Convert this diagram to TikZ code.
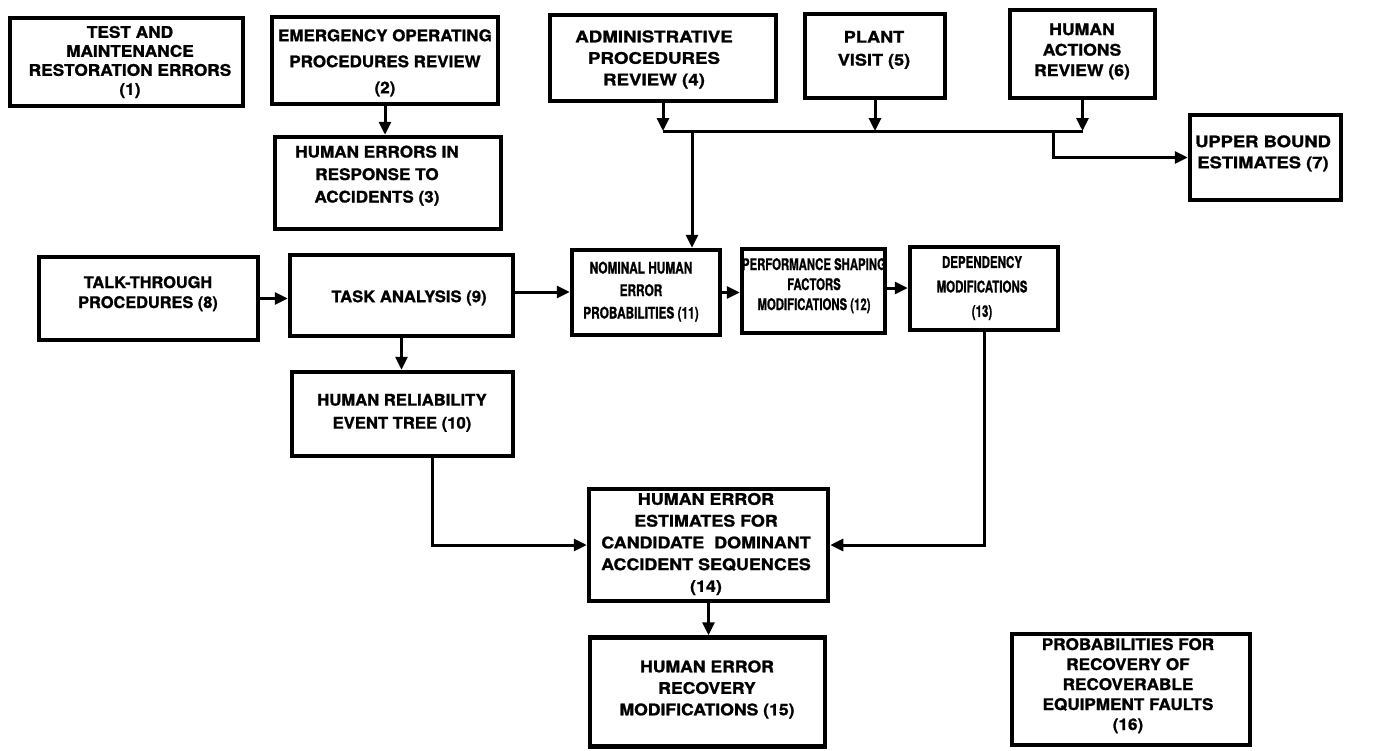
\documentclass[tikz,border=0pt]{standalone}
\usepackage{fontspec}
\usepackage{graphicx}
\newfontfamily\hv{TeX Gyre Heros}[FakeBold=1.2]
\usetikzlibrary{arrows.meta}
% #1 horizontal scale, #2 font size, #3 line spacing, #4 lines
\newcommand{\lbl}[4]{\scalebox{#1}[1]{\fontsize{#2}{#3}\selectfont\begin{tabular}{@{}c@{}}#4\end{tabular}}}

\begin{document}
\begin{tikzpicture}[x=1pt,y=-1pt,
  box/.style={draw, line width=4.5pt, inner sep=0pt, rectangle},
  txt/.style={inner sep=0pt, font=\hv\bfseries},
  conn/.style={line width=3pt},
  arr/.style={line width=3pt, -{Triangle[length=13pt,width=12pt]}}]
\useasboundingbox (0,0) rectangle (1373,750);

% boxes
\node[box, minimum width=233pt, minimum height=88pt]  (b1)  at (126.5,62)   {};
\node[box, minimum width=226pt, minimum height=87pt]  (b2)  at (385,60.5)   {};
\node[box, minimum width=226pt, minimum height=92pt]  (b3)  at (388,183)    {};
\node[box, minimum width=226pt, minimum height=86pt]  (b4)  at (663,58)     {};
\node[box, minimum width=140pt, minimum height=84pt]  (b5)  at (875,56)     {};
\node[box, minimum width=145pt, minimum height=88pt]  (b6)  at (1082.5,54)  {};
\node[box, minimum width=151pt, minimum height=85pt]  (b7)  at (1265.5,157.5) {};
\node[box, minimum width=219pt, minimum height=83pt]  (b8)  at (148.5,298.5) {};
\node[box, minimum width=223pt, minimum height=81pt]  (b9)  at (401.5,295.5) {};
\node[box, minimum width=221pt, minimum height=84pt]  (b10) at (402.5,414)  {};
\node[box, minimum width=148pt, minimum height=85pt]  (b11) at (646,292.5)  {};
\node[box, minimum width=143pt, minimum height=84pt]  (b12) at (813.5,291)  {};
\node[box, minimum width=148pt, minimum height=83pt]  (b13) at (984,288.5)  {};
\node[box, minimum width=239pt, minimum height=112pt] (b14) at (708.5,545)  {};
\node[box, minimum width=235pt, minimum height=109pt] (b15) at (707.5,692)  {};
\node[box, minimum width=238pt, minimum height=111pt] (b16) at (1131,689.5) {};

% labels
\node[txt] (t1)  at (130,62.5)   {\lbl{1.08}{16}{19}{TEST AND\\MAINTENANCE\\RESTORATION ERRORS\\(1)}};
\node[txt] (t2)  at (385,62)     {\lbl{1.06}{16}{26}{EMERGENCY OPERATING\\PROCEDURES REVIEW\\(2)}};
\node[txt] (t3)  at (377,175.5)  {\lbl{1.07}{16}{22.5}{HUMAN ERRORS IN\\RESPONSE TO\\ACCIDENTS (3)}};
\node[txt] (t4)  at (654,59.5)   {\lbl{1.17}{16}{21.5}{ADMINISTRATIVE\\PROCEDURES\\REVIEW (4)}};
\node[txt] (t5)  at (874,49.5)   {\lbl{1.13}{16}{23}{PLANT\\VISIT (5)}};
\node[txt] (t6)  at (1082,51.5)  {\lbl{1.1}{16}{20.5}{HUMAN\\ACTIONS\\REVIEW (6)}};
\node[txt] (t7)  at (1263,153.5) {\lbl{1.15}{16}{21}{UPPER BOUND\\ESTIMATES (7)}};
\node[txt] (t8)  at (148,294)    {\lbl{1.02}{16}{20}{TALK-THROUGH\\PROCEDURES (8)}};
\node[txt] (t9)  at (409,298)    {\lbl{1.04}{16}{21}{TASK ANALYSIS (9)}};
\node[txt] (t10) at (402,412.5)  {\lbl{1.04}{16}{23}{HUMAN RELIABILITY\\EVENT TREE (10)}};
\node[txt] (t11) at (641,291.5)  {\lbl{0.74}{16}{22.5}{NOMINAL HUMAN\\ERROR\\PROBABILITIES (11)}};
\node[txt] (t12) at (814,286)    {\lbl{0.71}{16}{20}{PERFORMANCE SHAPING\\FACTORS\\MODIFICATIONS (12)}};
\node[txt] (t13) at (982,287.5)  {\lbl{0.72}{16}{24.5}{DEPENDENCY\\MODIFICATIONS\\(13)}};
\node[txt] (t14) at (706,544)    {\lbl{1.12}{16}{21.75}{HUMAN ERROR\\ESTIMATES FOR\\CANDIDATE\ \ DOMINANT\\ACCIDENT SEQUENCES\\(14)}};
\node[txt] (t15) at (707,689.5)  {\lbl{1.1}{16}{21.5}{HUMAN ERROR\\RECOVERY\\MODIFICATIONS (15)}};
\node[txt] (t16) at (1128,686)   {\lbl{1.07}{16}{20}{PROBABILITIES FOR\\RECOVERY OF\\RECOVERABLE\\EQUIPMENT FAULTS\\(16)}};

% collecting line below the review boxes
\coordinate (busA) at (663,131);
\coordinate (busB) at (1082.5,131);
\coordinate (busC) at (692,131);
\coordinate (busD) at (1053,131);

% connectors
\draw[arr] (b2.south) -- (b2.south |- b3.north);
\draw[arr] (b4.south) -- (b4.south |- busA);
\draw[arr] (b5.south) -- (b5.south |- busA);
\draw[arr] (b6.south) -- (b6.south |- busA);
\draw[conn] (busA) -- (busB);
\draw[arr] (busC) -- (busC |- b11.north);
\draw[arr] (busD) |- (b7.west);
\draw[arr] (b8.east) -- (b8.east -| b9.west);
\draw[arr] ([yshift=3.5pt]b9.east) -- ([yshift=3.5pt]b9.east -| b11.west);
\draw[arr] (b9.south) -- (b9.south |- b10.north);
\draw[arr] (b11.east) -- (b11.east -| b12.west);
\draw[arr] ([yshift=3pt]b12.east) -- ([yshift=3pt]b12.east -| b13.west);
\draw[arr] ([xshift=29.5pt]b10.south) |- (b14.west);
\draw[arr] (b13.south) |- (b14.east);
\draw[arr] (b14.south) -- (b14.south |- b15.north);
\end{tikzpicture}
\end{document}
